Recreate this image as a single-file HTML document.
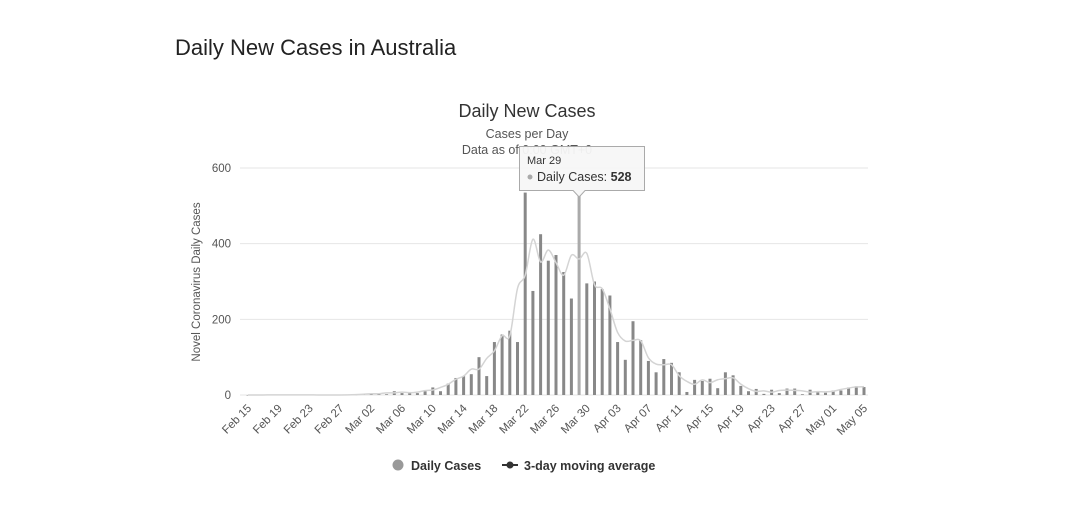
<!DOCTYPE html>
<html><head><meta charset="utf-8"><style>
body{margin:0;background:#fff;font-family:"Liberation Sans",sans-serif;}
#wrap{position:relative;width:1082px;height:525px;overflow:hidden;}
</style></head><body>
<div id="wrap">
<div style="position:absolute;left:175px;top:35px;font-size:22px;color:#222;">Daily New Cases in Australia</div>
<svg id="chart" width="1082" height="525" style="position:absolute;left:0;top:0"></svg>
</div>
<script>
const categories=[];
(function(){const m=["Jan","Feb","Mar","Apr","May"];const d=new Date(Date.UTC(2020,1,15));for(let i=0;i<81;i++){const t=new Date(d.getTime()+i*864e5);categories.push(m[t.getUTCMonth()]+" "+String(t.getUTCDate()).padStart(2,"0"));}})();
const dailyCases=[0,0,0,0,1,0,0,1,0,0,0,0,0,0,1,
2,3,5,2,10,5,8,5,10,20,10,30,45,50,55,100,50,140,160,170,140,535,275,425,355,370,325,255,528,295,300,280,263,
140,93,195,145,90,60,95,85,60,8,40,37,43,18,60,52,24,10,16,3,14,5,17,17,2,14,7,6,12,
12,20,23,21];
const yTicks=[0,200,400,600];
const hoverIndex=43;
const svg=document.getElementById('chart');const NS="http://www.w3.org/2000/svg";
function el(t,a,p){const e=document.createElementNS(NS,t);for(const k in a)e.setAttribute(k,a[k]);(p||svg).appendChild(e);return e;}
const x0=248,x1=864,yb=395,yt=168;
const xs=i=>x0+i*(x1-x0)/(categories.length-1);
const ys=v=>yb-v*(yb-yt)/600;
let t=el('text',{x:527,y:117,'text-anchor':'middle','font-size':18,fill:'#333'});t.textContent='Daily New Cases';

t=el('text',{x:527,y:138,'text-anchor':'middle','font-size':12.5,fill:'#555'});t.textContent='Cases per Day';

t=el('text',{x:527,y:154,'text-anchor':'middle','font-size':12.5,fill:'#555'});t.textContent='Data as of 0:00 GMT+0';

yTicks.forEach(v=>{const g=el('line',{x1:x0-8,x2:868,y1:ys(v),y2:ys(v),stroke:'#e6e6e6','stroke-width':1});

const l=el('text',{x:231,y:ys(v)+4,'text-anchor':'end','font-size':11.5,fill:'#555'});l.textContent=v;
});
t=el('text',{x:0,y:0,'text-anchor':'middle','font-size':11.5,fill:'#555',transform:'translate(200,282) rotate(-90)'});t.textContent='Novel Coronavirus Daily Cases';

categories.forEach((c,i)=>{if(i%4)return;const l=el('text',{x:0,y:0,'text-anchor':'end','font-size':11.5,fill:'#555',transform:`translate(${xs(i)+4},${yb+14}) rotate(-45)`});l.textContent=c;
});
dailyCases.forEach((v,i)=>{const h=yb-ys(v);const r=el('rect',{x:xs(i)-1.5,y:ys(v),width:3,height:Math.max(h,0.5),fill:i===hoverIndex?'#aaa':'#888'});
});
const ma=dailyCases.map((v,i)=>{const a=dailyCases.slice(Math.max(0,i-1),i+2);return a.reduce((s,q)=>s+q,0)/a.length;});
let d='';const pts=ma.map((v,i)=>[xs(i),ys(v)]);
pts.forEach((p,i)=>{if(!i){d='M'+p[0]+','+p[1];return;}const p0=pts[i-2]||pts[i-1],p1=pts[i-1],p3=pts[i+1]||p;
d+=` C${p1[0]+(p[0]-p0[0])/6},${p1[1]+(p[1]-p0[1])/6} ${p[0]-(p3[0]-p1[0])/6},${p[1]-(p3[1]-p1[1])/6} ${p[0]},${p[1]}`;});
const line=el('path',{d:d,fill:'none',stroke:'#d4d4d4','stroke-width':1.5});

// tooltip
const tx=xs(hoverIndex);
const tg=el('g',{});
el('path',{d:`M519.5,146.5 H644.5 V190.5 H${tx+6} L${tx},197 L${tx-6},190.5 H519.5 Z`,fill:'#f7f7f7','fill-opacity':0.95,stroke:'#aaa','stroke-width':1},tg);
t=el('text',{x:527,y:164,'font-size':11,fill:'#333'},tg);t.textContent=categories[hoverIndex];
el('circle',{cx:530,cy:177,r:2.5,fill:'#aaa'},tg);
t=el('text',{x:537,y:181,'font-size':12.5,fill:'#333'},tg);t.innerHTML='Daily Cases: <tspan font-weight="bold">'+dailyCases[hoverIndex]+'</tspan>';
// legend
const lg=el('g',{});
const c1=el('circle',{cx:398,cy:465,r:5.5,fill:'#999'},lg);

t=el('text',{x:411,y:470,'font-size':12.5,'font-weight':'bold',fill:'#333'},lg);t.textContent='Daily Cases';

el('line',{x1:502,x2:518,y1:465,y2:465,stroke:'#333','stroke-width':2},lg);
el('circle',{cx:510,cy:465,r:3.5,fill:'#333'},lg);
t=el('text',{x:524,y:470,'font-size':12.5,'font-weight':'bold',fill:'#333'},lg);t.textContent='3-day moving average';

</script>
</body></html>
